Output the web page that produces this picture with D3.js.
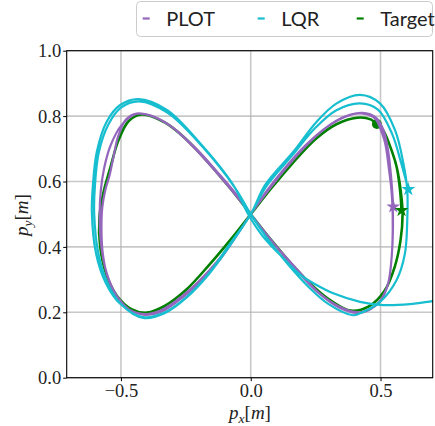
<!DOCTYPE html>
<html><head><meta charset="utf-8">
<script src="https://cdn.jsdelivr.net/npm/d3@7"></script>
<style>body{margin:0;background:#fff}svg{display:block}</style>
</head><body><svg id="chart" width="435" height="426"></svg>
<script>
// ---- data ----
const seriesNames = ["PLOT", "LQR", "Target"];
const seriesColors = ["#9467bd", "#17becf", "#008000"];
const xTicks = [-0.5, 0.0, 0.5];
const yTicks = [0.0, 0.2, 0.4, 0.6, 0.8, 1.0];
const xDomain = [-0.709, 0.701];
const yDomain = [0, 1];

const targetPts = [
  [0.486,0.776],[0.51,0.757],[0.545,0.69],[0.562,0.645],[0.578,0.57],[0.585,0.5],[0.577,0.42],[0.555,0.34],[0.515,0.265],[0.455,0.218],[0.385,0.205],
  [0.31,0.235],[0.24,0.28],[0.16,0.345],[0.08,0.42],[0.0,0.5],
  [-0.08,0.58],[-0.16,0.655],[-0.25,0.73],[-0.33,0.78],[-0.42,0.805],[-0.47,0.785],[-0.51,0.725],[-0.54,0.645],[-0.568,0.565],[-0.583,0.49],[-0.58,0.4],[-0.556,0.315],[-0.515,0.25],[-0.46,0.21],[-0.40,0.199],
  [-0.33,0.22],[-0.25,0.268],[-0.16,0.345],[-0.08,0.42],[0.0,0.5],
  [0.08,0.58],[0.16,0.655],[0.25,0.73],[0.33,0.775],[0.41,0.795],[0.462,0.79],[0.486,0.776],[0.51,0.757],[0.545,0.69],[0.562,0.645],[0.575,0.575],[0.581,0.512]
];

const plotPts = [
  [0.49,0.78],[0.517,0.72],[0.532,0.64],[0.545,0.55],[0.548,0.46],[0.543,0.37],[0.53,0.29],[0.50,0.235],[0.45,0.205],[0.41,0.198],
  [0.34,0.215],[0.26,0.26],[0.18,0.325],[0.09,0.41],[0.0,0.5],
  [-0.06,0.565],[-0.13,0.63],[-0.21,0.7],[-0.30,0.765],[-0.38,0.8],[-0.44,0.808],[-0.48,0.79],[-0.51,0.74],[-0.53,0.67],[-0.545,0.615],[-0.56,0.575],[-0.572,0.52],[-0.575,0.45],[-0.57,0.38],[-0.552,0.31],[-0.52,0.255],[-0.47,0.21],[-0.414,0.193],
  [-0.35,0.2],[-0.28,0.235],[-0.2,0.29],[-0.12,0.36],[-0.05,0.44],[0.0,0.5],
  [0.06,0.57],[0.13,0.64],[0.21,0.71],[0.29,0.765],[0.36,0.798],[0.425,0.808],[0.475,0.795],[0.505,0.755],[0.522,0.7],[0.536,0.62],[0.545,0.54],[0.547,0.45],[0.542,0.36],[0.528,0.285],[0.495,0.232],[0.45,0.206],[0.415,0.2],
  [0.34,0.218],[0.26,0.262],[0.18,0.33],[0.09,0.41],[0.0,0.5],
  [-0.07,0.57],[-0.14,0.635],[-0.22,0.705],[-0.31,0.77],[-0.39,0.803],[-0.445,0.806],[-0.5,0.77],[-0.54,0.71],[-0.565,0.64],[-0.578,0.57],[-0.582,0.5],[-0.578,0.42],[-0.562,0.34],[-0.53,0.27],[-0.48,0.215],[-0.42,0.195],
  [-0.35,0.205],[-0.28,0.24],[-0.2,0.295],[-0.12,0.365],[-0.05,0.44],[0.0,0.5],
  [0.07,0.575],[0.14,0.645],[0.22,0.715],[0.3,0.77],[0.37,0.8],[0.43,0.81],[0.48,0.797],[0.51,0.76],[0.528,0.7],[0.54,0.62],[0.549,0.523]
];

const lqrPts = [
  [0.76,0.24],[0.70,0.234],[0.613,0.225],[0.511,0.222],[0.421,0.232],[0.318,0.258],[0.25,0.285],[0.19,0.315],[0.126,0.365],[0.049,0.43],[-0.01,0.5],
  [-0.067,0.589],[-0.195,0.717],[-0.323,0.819],[-0.433,0.852],[-0.503,0.834],[-0.555,0.783],[-0.593,0.691],[-0.608,0.589],[-0.612,0.503],[-0.596,0.38],[-0.558,0.289],[-0.503,0.226],[-0.414,0.185],
  [-0.33,0.2],[-0.25,0.245],[-0.16,0.32],[-0.08,0.41],[0.0,0.5],
  [0.055,0.589],[0.164,0.691],[0.254,0.783],[0.331,0.839],[0.421,0.865],[0.498,0.839],[0.556,0.757],[0.588,0.656],[0.603,0.574],[0.603,0.482],[0.594,0.38],[0.562,0.299],[0.498,0.232],[0.421,0.197],[0.394,0.191],
  [0.3,0.225],[0.22,0.28],[0.14,0.35],[0.06,0.43],[0.0,0.5],
  [-0.06,0.58],[-0.19,0.71],[-0.32,0.81],[-0.43,0.845],[-0.5,0.826],[-0.548,0.775],[-0.585,0.69],[-0.6,0.59],[-0.603,0.5],[-0.587,0.38],[-0.552,0.29],[-0.5,0.225],[-0.414,0.183],
  [-0.33,0.198],[-0.25,0.243],[-0.16,0.318],[-0.08,0.405],[0.0,0.5],
  [0.06,0.585],[0.16,0.68],[0.25,0.765],[0.33,0.818],[0.421,0.839],[0.49,0.82],[0.545,0.745],[0.58,0.655],[0.607,0.576]
];

const startMarker = [0.486, 0.776];          // green circle
const endMarkers = [[0.549,0.523],[0.607,0.576],[0.581,0.512]]; // PLOT, LQR, Target stars

// ---- layout ----
const svg = d3.select("#chart");
const L = 66.7, R = 432.7, T = 50.7, B = 377.7;
const x = d3.scaleLinear().domain(xDomain).range([L, R]);
const y = d3.scaleLinear().domain(yDomain).range([B, T]);
const tickFont = "'Liberation Serif', 'Times New Roman', serif";

// grid
const grid = svg.append("g");
grid.selectAll("line.gx").data(xTicks).join("line")
  .attr("x1", d => x(d)).attr("x2", d => x(d)).attr("y1", T).attr("y2", B)
  .attr("stroke", "#b0b0b0").attr("stroke-opacity", 0.7).attr("stroke-width", 1.6);
grid.selectAll("line.gy").data(yTicks).join("line")
  .attr("y1", d => y(d)).attr("y2", d => y(d)).attr("x1", L).attr("x2", R)
  .attr("stroke", "#b0b0b0").attr("stroke-opacity", 0.7).attr("stroke-width", 1.6);

// clip
svg.append("clipPath").attr("id", "clip").append("rect")
  .attr("x", L).attr("y", T).attr("width", R - L).attr("height", B - T);

const line = d3.line().x(d => x(d[0])).y(d => y(d[1])).curve(d3.curveCatmullRom.alpha(0.5));
const g = svg.append("g").attr("clip-path", "url(#clip)");
g.append("path").datum(targetPts).attr("d", line).attr("fill", "none")
  .attr("stroke", seriesColors[2]).attr("stroke-width", 2.6).attr("stroke-linejoin", "round");
g.append("circle").attr("cx", x(startMarker[0])).attr("cy", y(startMarker[1])).attr("r", 5)
  .attr("fill", seriesColors[2]);
g.append("path").datum(plotPts).attr("d", line).attr("fill", "none")
  .attr("stroke", seriesColors[0]).attr("stroke-width", 2.2).attr("stroke-linejoin", "round");
g.append("path").datum(lqrPts).attr("d", line).attr("fill", "none")
  .attr("stroke", seriesColors[1]).attr("stroke-width", 2.2).attr("stroke-linejoin", "round");

const star = d3.symbol().type(d3.symbolStar).size(60);
g.selectAll("path.star").data(endMarkers).join("path")
  .attr("d", star)
  .attr("transform", d => `translate(${x(d[0])},${y(d[1])})`)
  .attr("fill", (d, i) => seriesColors[i]);

// axes
const fmt = d3.format(".1f");
const xAxis = svg.append("g").attr("transform", `translate(0,${B})`)
  .call(d3.axisBottom(x).tickValues(xTicks).tickFormat(fmt).tickSize(3.5).tickPadding(2.5));
const yAxis = svg.append("g").attr("transform", `translate(${L},0)`)
  .call(d3.axisLeft(y).tickValues(yTicks).tickFormat(fmt).tickSize(3.5).tickPadding(2));
[xAxis, yAxis].forEach(a => {
  a.select(".domain").remove();
  a.selectAll("line").attr("stroke", "#000").attr("stroke-width", 1);
  a.selectAll("text").attr("font-family", tickFont).attr("font-size", 18.5).attr("fill", "#222");
});
xAxis.selectAll("text").attr("dy", "0.71em");
yAxis.selectAll("text").attr("dy", "0.34em");

// frame
svg.append("rect").attr("x", L).attr("y", T).attr("width", R - L).attr("height", B - T)
  .attr("fill", "none").attr("stroke", "#000").attr("stroke-width", 1.1);

// axis labels
function mathLabel(sel, sub) {
  sel.attr("font-family", tickFont).attr("font-size", 19).attr("fill", "#222").attr("text-anchor", "middle");
  sel.append("tspan").attr("font-style", "italic").text("p");
  sel.append("tspan").attr("font-style", "italic").attr("font-size", 13.5).attr("dy", 4).text(sub);
  sel.append("tspan").attr("dy", -4).text("[");
  sel.append("tspan").attr("font-style", "italic").text("m");
  sel.append("tspan").text("]");
}
mathLabel(svg.append("text").attr("x", 250).attr("y", 419), "x");
mathLabel(svg.append("text").attr("transform", "translate(28,215) rotate(-90)"), "y");

// legend
const lg = svg.append("g");
lg.append("rect").attr("x", 136.5).attr("y", 1.5).attr("width", 296).attr("height", 35).attr("rx", 4)
  .attr("fill", "#fff").attr("stroke", "#cccccc").attr("stroke-width", 1);
const legendX = [142.7, 257.7, 356.7];
seriesNames.forEach((name, i) => {
  lg.append("line").attr("x1", legendX[i]).attr("x2", legendX[i] + 7).attr("y1", 18.5).attr("y2", 18.5)
    .attr("stroke", seriesColors[i]).attr("stroke-width", 2.2);
  lg.append("text").attr("x", legendX[i] + 23.5).attr("y", 26).attr("font-family", "Lato, 'Open Sans', sans-serif")
    .attr("font-size", 20).attr("fill", "#222").text(name);
});
</script></body></html>
